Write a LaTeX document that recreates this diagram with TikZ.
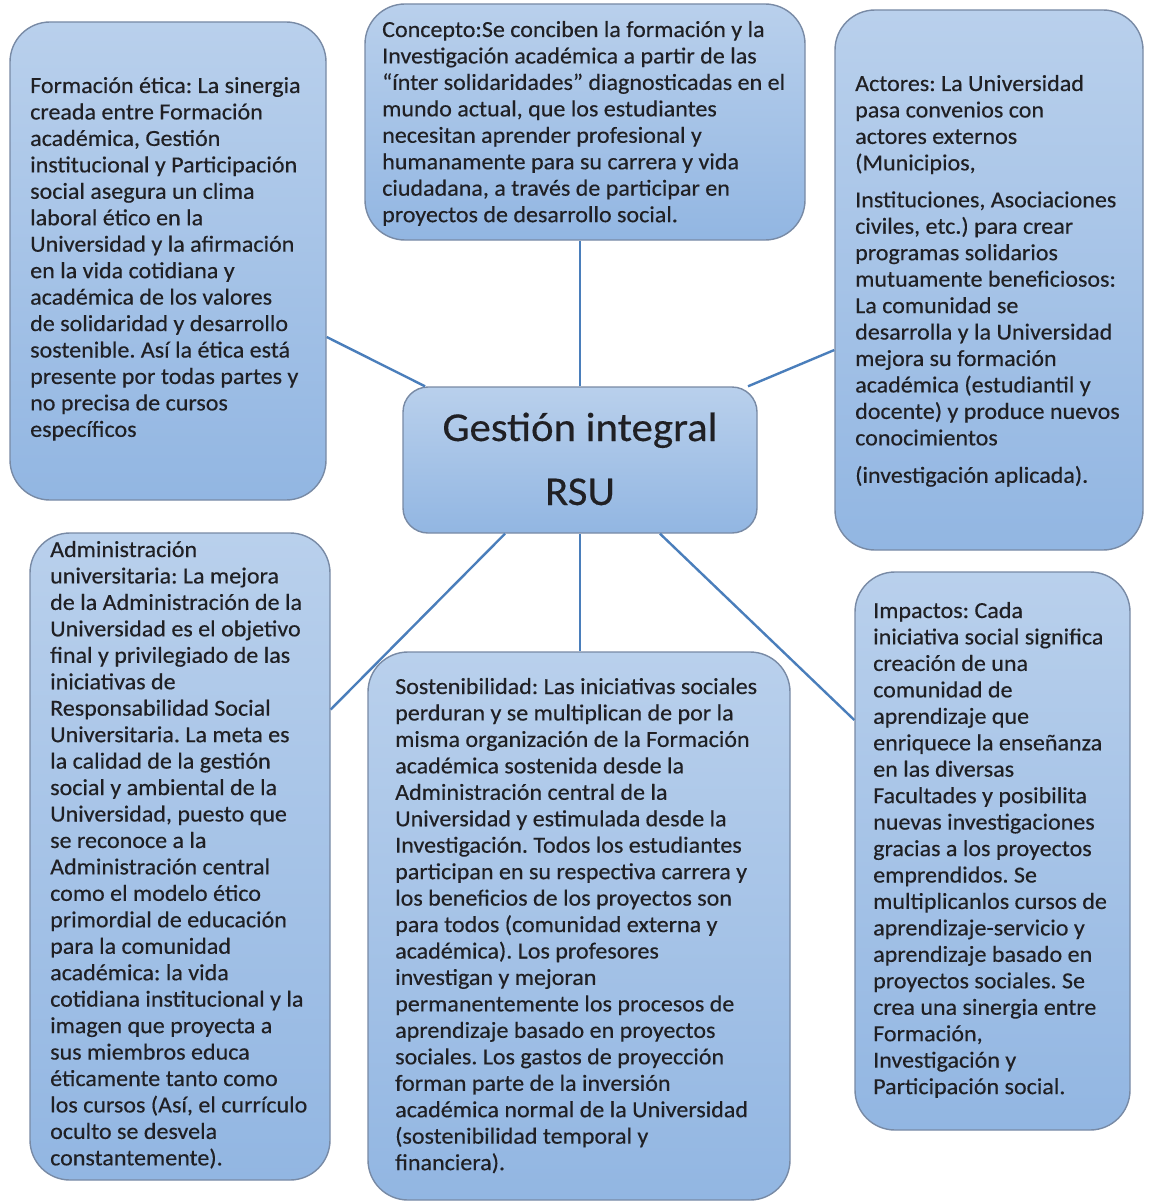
\documentclass[tikz,border=0pt]{standalone}
\usepackage{fontspec}
\setmainfont[FakeStretch=1.045,FakeBold=0.35]{Carlito}
\usetikzlibrary{calc}
\definecolor{boxtop}{RGB}{185,208,236}
\definecolor{boxbot}{RGB}{146,182,226}
\definecolor{boxborder}{RGB}{120,138,165}
\definecolor{linkblue}{RGB}{74,126,187}
\definecolor{textc}{RGB}{32,32,36}
\frenchspacing
\begin{document}
\begin{tikzpicture}[x=1pt,y=-1pt,
  box/.style={draw=boxborder, line width=1.4pt, rounded corners=40pt, top color=boxtop, bottom color=boxbot, inner sep=0pt},
  link/.style={draw=linkblue, line width=2.4pt},
  txt/.style={anchor=base west, inner sep=0pt, text=textc, font=\fontsize{23}{26.45}\selectfont}]
\useasboundingbox[fill=white] (0,0) rectangle (1150,1204);

% boxes
\node[box, minimum width=316pt, minimum height=478pt] (fe) at (168,261) {};
\node[box, minimum width=440pt, minimum height=236pt] (con) at (585,122) {};
\node[box, minimum width=308pt, minimum height=540pt] (act) at (989,280) {};
\node[box, rounded corners=25pt, minimum width=354pt, minimum height=146pt] (ctr) at (580,460) {};
\node[box, minimum width=300pt, minimum height=647pt] (adm) at (180,856.5) {};
\node[box, minimum width=422pt, minimum height=548pt] (sos) at (579,926) {};
\node[box, minimum width=275pt, minimum height=558pt] (imp) at (992.5,851) {};

% connectors
\draw[link] ([yshift=-76pt]fe.east) -- ([xshift=-155pt]ctr.north);
\draw[link] (ctr.north) -- (ctr.north |- con.south);
\draw[link] ([yshift=-70pt]act.west) -- ([xshift=168pt]ctr.north);
\draw[link] ([xshift=-75pt]ctr.south) -- ([yshift=147pt]adm.east);
\draw[link] (ctr.south) -- (ctr.south |- sos.north);
\draw[link] ([xshift=80pt]ctr.south) -- ([yshift=131pt]imp.west);

% texts
\node[txt] (tfe) at (30,93) {\parbox[t]{300pt}{\raggedright
Formación ética: La sinergia\\
creada entre Formación\\
académica, Gestión\\
institucional y Participación\\
social asegura un clima\\
laboral ético en la\\
Universidad y la afirmación\\
en la vida cotidiana y\\
académica de los valores\\
de solidaridad y desarrollo\\
sostenible. Así la ética está\\
presente por todas partes y\\
no precisa de cursos\\
específicos}};

\node[txt] (tcon) at (382,37) {\parbox[t]{420pt}{\raggedright
Concepto:Se conciben la formación y la\\
Investigación académica a partir de las\\
“ínter solidaridades” diagnosticadas en el\\
mundo actual, que los estudiantes\\
necesitan aprender profesional y\\
humanamente para su carrera y vida\\
ciudadana, a través de participar en\\
proyectos de desarrollo social.}};

\node[txt] (tact) at (855,91) {\parbox[t]{290pt}{\raggedright
Actores: La Universidad\\
pasa convenios con\\
actores externos\\
(Municipios,\\[10.5pt]
Instituciones, Asociaciones\\
civiles, etc.) para crear\\
programas solidarios\\
mutuamente beneficiosos:\\
La comunidad se\\
desarrolla y la Universidad\\
mejora su formación\\
académica (estudiantil y\\
docente) y produce nuevos\\
conocimientos\\[11pt]
(investigación aplicada).}};

\node[anchor=base, inner sep=0pt, text=textc, font=\fontsize{41}{64}\selectfont] (tctr) at (580,441) {\parbox[t]{354pt}{\centering
Gestión integral\\
RSU}};

\node[txt] (tadm) at (50,557) {\parbox[t]{290pt}{\raggedright
Administración\\
universitaria: La mejora\\
de la Administración de la\\
Universidad es el objetivo\\
final y privilegiado de las\\
iniciativas de\\
Responsabilidad Social\\
Universitaria. La meta es\\
la calidad de la gestión\\
social y ambiental de la\\
Universidad, puesto que\\
se reconoce a la\\
Administración central\\
como el modelo ético\\
primordial de educación\\
para la comunidad\\
académica: la vida\\
cotidiana institucional y la\\
imagen que proyecta a\\
sus miembros educa\\
éticamente tanto como\\
los cursos (Así, el currículo\\
oculto se desvela\\
constantemente).}};

\node[txt] (tsos) at (395,694) {\parbox[t]{400pt}{\raggedright
Sostenibilidad: Las iniciativas sociales\\
perduran y se multiplican de por la\\
misma organización de la Formación\\
académica sostenida desde la\\
Administración central de la\\
Universidad y estimulada desde la\\
Investigación. Todos los estudiantes\\
participan en su respectiva carrera y\\
los beneficios de los proyectos son\\
para todos (comunidad externa y\\
académica). Los profesores\\
investigan y mejoran\\
permanentemente los procesos de\\
aprendizaje basado en proyectos\\
sociales. Los gastos de proyección\\
forman parte de la inversión\\
académica normal de la Universidad\\
(sostenibilidad temporal y\\
financiera).}};

\node[txt] (timp) at (873,618) {\parbox[t]{270pt}{\raggedright
Impactos: Cada\\
iniciativa social significa\\
creación de una\\
comunidad de\\
aprendizaje que\\
enriquece la enseñanza\\
en las diversas\\
Facultades y posibilita\\
nuevas investigaciones\\
gracias a los proyectos\\
emprendidos. Se\\
multiplicanlos cursos de\\
aprendizaje-servicio y\\
aprendizaje basado en\\
proyectos sociales. Se\\
crea una sinergia entre\\
Formación,\\
Investigación y\\
Participación social.}};
\end{tikzpicture}
\end{document}
